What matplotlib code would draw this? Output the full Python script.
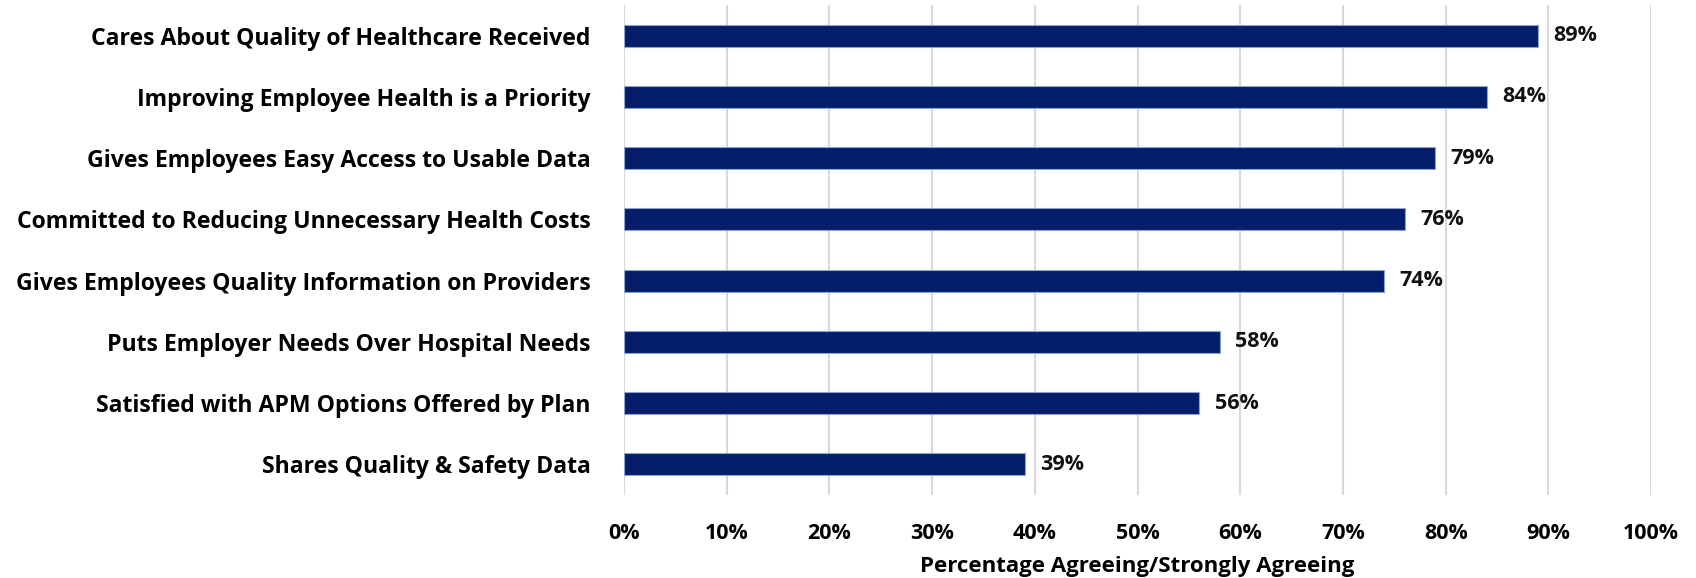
import matplotlib.pyplot as plt
from matplotlib.ticker import PercentFormatter

# Dados
categorias = [
    "Cares About Quality of Healthcare Received",
    "Improving Employee Health is a Priority",
    "Gives Employees Easy Access to Usable Data",
    "Committed to Reducing Unnecessary Health Costs",
    "Gives Employees Quality Information on Providers",
    "Puts Employer Needs Over Hospital Needs",
    "Satisfied with APM Options Offered by Plan",
    "Shares Quality & Safety Data",
]
valores = [89, 84, 79, 76, 74, 58, 56, 39]
ticks_x = [0, 10, 20, 30, 40, 50, 60, 70, 80, 90, 100]

plt.rcParams['font.family'] = ['Open Sans', 'DejaVu Sans']
plt.rcParams['font.weight'] = 'bold'

fig = plt.figure(figsize=(16.96, 5.78), dpi=100)
ax = fig.add_axes([0.3679, 0.1436, 0.6056, 0.8477])

pos = list(range(len(categorias)))
ax.barh(pos, valores, height=0.36, color='#041E69', edgecolor='#8FA3C8', linewidth=0.8, zorder=3)

for y, v in zip(pos, valores):
    ax.text(v + 1.5, y, f"{v}%", va='center', ha='left', fontsize=15.5, fontweight='bold', color='#111111')

ax.set_yticks(pos)
ax.set_yticklabels(categorias, fontsize=16.6, fontweight='bold')
ax.set_ylim(len(categorias) - 0.5, -0.5)
ax.set_xlim(0, 100)
ax.set_xticks(ticks_x)
ax.xaxis.set_major_formatter(PercentFormatter(decimals=0))
for lbl in ax.get_xticklabels():
    lbl.set_fontweight('bold')
ax.tick_params(axis='x', length=0, pad=20, labelsize=15.5)
ax.tick_params(axis='y', length=0, pad=24)

ax.grid(axis='x', color='#D9D9D9', linewidth=1.5, zorder=0)
for s in ax.spines.values():
    s.set_visible(False)

ax.set_xlabel("Percentage Agreeing/Strongly Agreeing", fontsize=16, fontweight='bold', labelpad=9)

plt.savefig("out.png", dpi=100)
